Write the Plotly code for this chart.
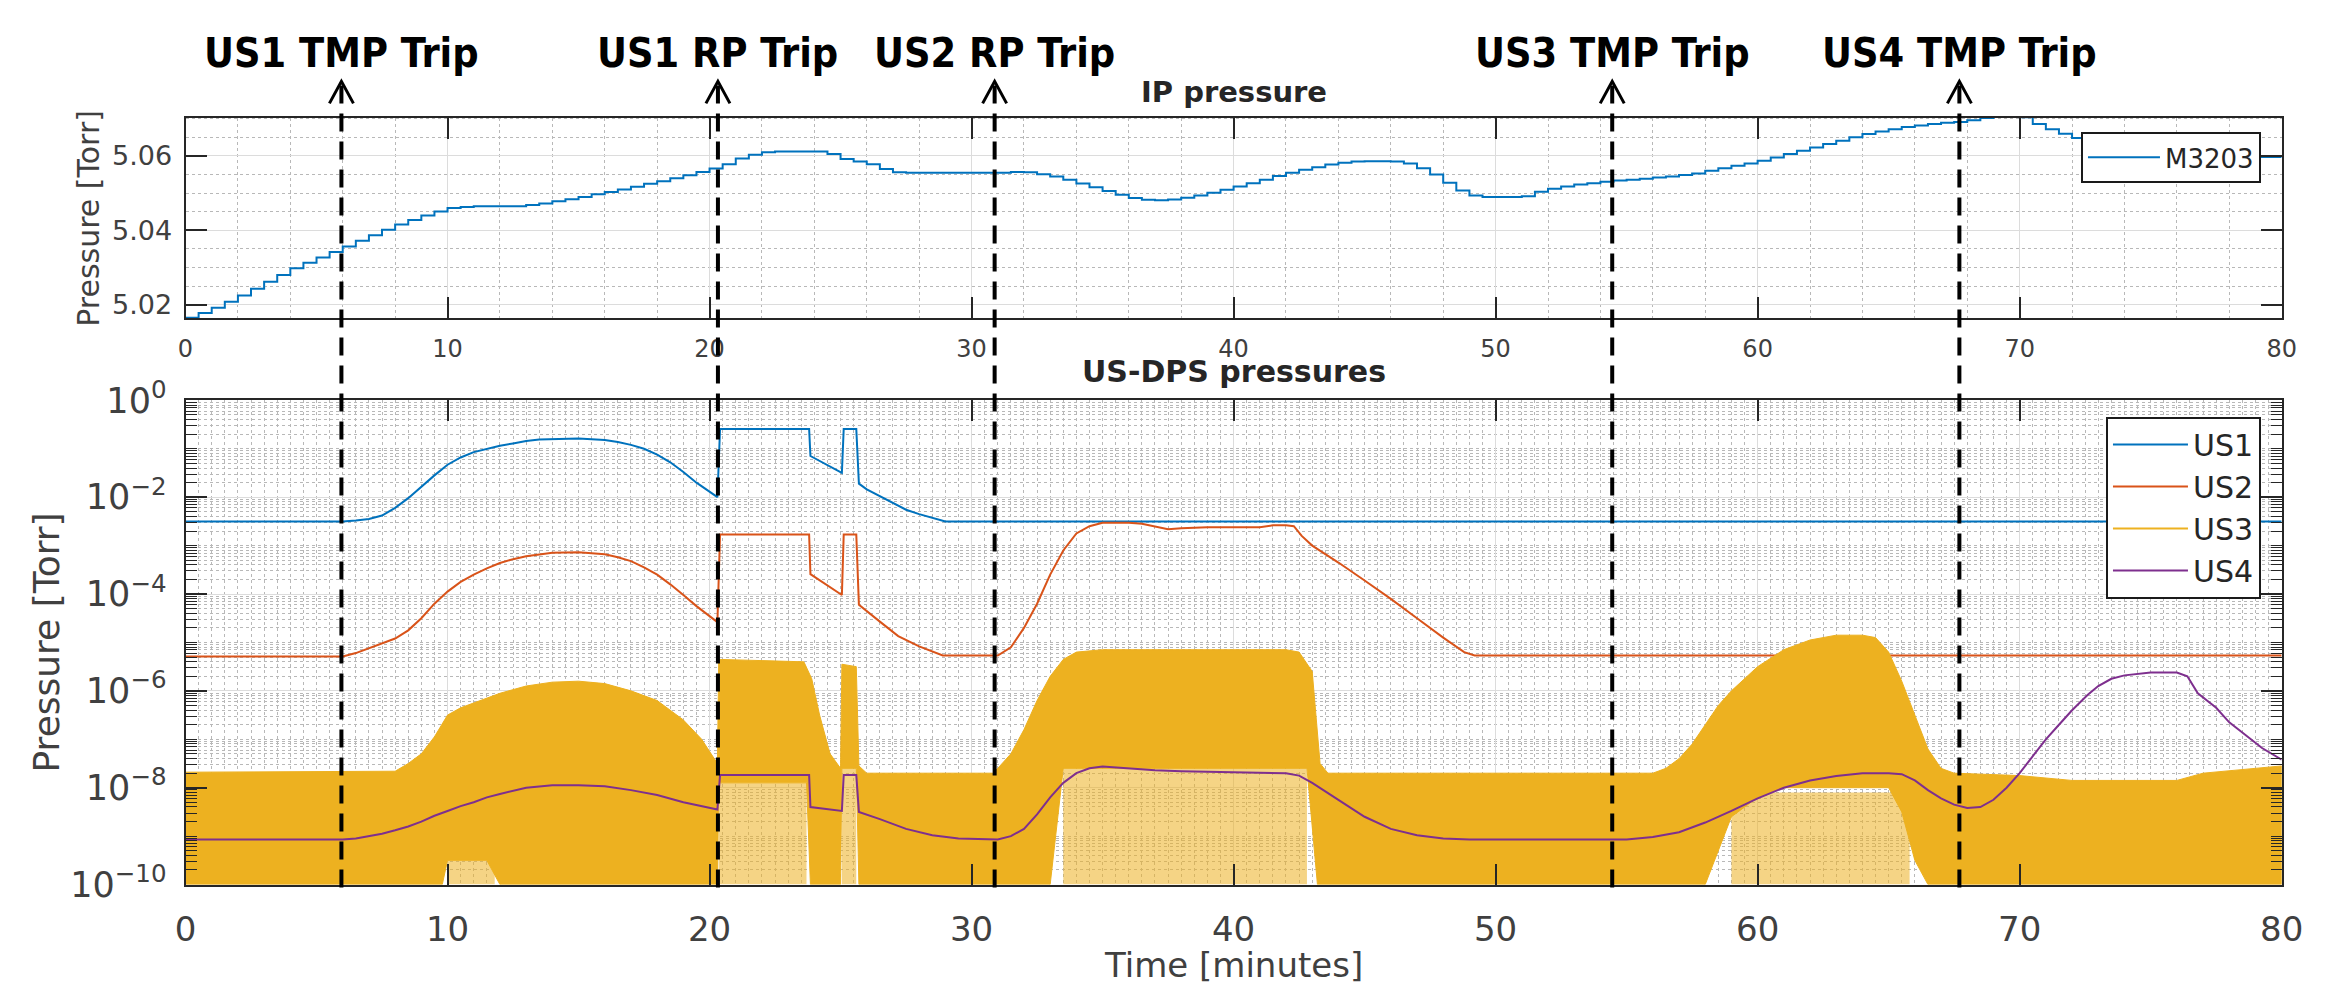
import plotly.graph_objects as go

# ---------------- data ----------------
IP_TIME = [i * 0.5 for i in range(161)]  # minutes, 0.5-min sampling
IP_M3203 = [
    5.0165, 5.0178, 5.0192, 5.0208, 5.0225, 5.0243, 5.0262, 5.0280, 5.0298, 5.0313,
    5.0327, 5.0342, 5.0357, 5.0372, 5.0387, 5.0402, 5.0416, 5.0428, 5.0440, 5.0451,
    5.0460, 5.0463, 5.0465, 5.0465, 5.0465, 5.0465, 5.0468, 5.0472, 5.0478, 5.0484,
    5.0490, 5.0497, 5.0503, 5.0510, 5.0517, 5.0525, 5.0532, 5.0540, 5.0548, 5.0557,
    5.0566, 5.0578, 5.0593, 5.0603, 5.0610, 5.0612, 5.0612, 5.0612, 5.0612, 5.0605,
    5.0592, 5.0585, 5.0578, 5.0565, 5.0556, 5.0555, 5.0555, 5.0555, 5.0555, 5.0555,
    5.0555, 5.0555, 5.0555, 5.0557, 5.0556, 5.0551, 5.0545, 5.0536, 5.0526, 5.0516,
    5.0506, 5.0496, 5.0487, 5.0482, 5.0481, 5.0483, 5.0488, 5.0494, 5.0501, 5.0509,
    5.0518, 5.0527, 5.0536, 5.0546, 5.0555, 5.0563, 5.0570, 5.0577, 5.0582, 5.0585,
    5.0586, 5.0586, 5.0585, 5.0580, 5.0567, 5.0550, 5.0528, 5.0507, 5.0494, 5.0490,
    5.0490, 5.0490, 5.0492, 5.0504, 5.0512, 5.0518, 5.0523, 5.0527, 5.0531, 5.0534,
    5.0536, 5.0539, 5.0542, 5.0545, 5.0549, 5.0553, 5.0560, 5.0567, 5.0574, 5.0580,
    5.0587, 5.0596, 5.0605, 5.0614, 5.0623, 5.0632, 5.0641, 5.0650, 5.0659, 5.0666,
    5.0672, 5.0678, 5.0682, 5.0686, 5.0689, 5.0691, 5.0696, 5.0702, 5.0705, 5.0706,
    5.0704, 5.0686, 5.0672, 5.0660, 5.0648, 5.0636, 5.0624, 5.0613, 5.0605, 5.0601,
    5.0599, 5.0598, 5.0598, 5.0598, 5.0598, 5.0598, 5.0598, 5.0597, 5.0597, 5.0597,
    5.0597,
]

# US-DPS pressures: time [min] and log10(pressure [Torr])
US1_T = [0, 6.0, 6.5, 7.0, 7.5, 8.0, 8.5, 9.0, 9.5, 10.0, 10.5, 11.0, 11.5, 12.0, 12.5,
         13.0, 13.5, 14.0, 15.0, 16.0, 16.5, 17.0, 17.5, 18.0, 18.5, 19.0, 19.5, 20.3,
         20.4, 23.8, 23.85, 25.05, 25.12, 25.6, 25.7, 26.0, 26.5, 27.0, 27.5, 28.0, 28.5,
         29.0, 80.0]
US1_LOG = [-2.5, -2.5, -2.48, -2.45, -2.38, -2.22, -2.02, -1.78, -1.55, -1.33, -1.18,
           -1.07, -1.0, -0.94, -0.89, -0.84, -0.81, -0.8, -0.79, -0.82, -0.86, -0.92,
           -1.0, -1.12, -1.28, -1.48, -1.7, -2.0, -0.59, -0.59, -1.15, -1.5, -0.59,
           -0.59, -1.72, -1.84, -1.98, -2.12, -2.26, -2.35, -2.43, -2.5, -2.5]

US2_T = [0, 6.0, 6.5, 7.0, 7.5, 8.0, 8.5, 9.0, 9.5, 10.0, 10.5, 11.0, 11.5, 12.0, 12.5,
         13.0, 14.0, 15.0, 16.0, 16.5, 17.0, 17.5, 18.0, 18.5, 19.0, 19.5, 20.3, 20.4,
         23.8, 23.85, 25.05, 25.12, 25.6, 25.7, 26.5, 27.2, 28.0, 28.9, 31.0, 31.5, 32.0,
         32.5, 33.0, 33.5, 34.0, 34.5, 35.0, 36.0, 36.5, 37.0, 37.5, 38.0, 39.0, 40.0,
         41.0, 41.5, 42.0, 42.3, 42.6, 43.0, 44.0, 45.0, 46.0, 47.0, 48.0, 48.8, 49.2,
         80.0]
US2_LOG = [-5.29, -5.29, -5.22, -5.12, -5.02, -4.92, -4.75, -4.5, -4.2, -3.95, -3.75,
           -3.6, -3.47, -3.36, -3.28, -3.22, -3.15, -3.14, -3.18, -3.24, -3.32, -3.45,
           -3.6, -3.8, -4.02, -4.25, -4.58, -2.77, -2.77, -3.59, -4.02, -2.77, -2.77,
           -4.22, -4.57, -4.87, -5.08, -5.27, -5.27, -5.1, -4.7, -4.2, -3.6, -3.1, -2.75,
           -2.6, -2.53, -2.53, -2.55, -2.6, -2.66, -2.64, -2.62, -2.62, -2.62, -2.58,
           -2.58, -2.6, -2.8, -3.0, -3.35, -3.72, -4.1, -4.5, -4.9, -5.2, -5.27, -5.27]

# US3 is a very noisy signal: upper and lower envelopes of its dense band
US3_UP_T = [0, 8.0, 8.5, 9.0, 9.5, 10.0, 10.5, 11.0, 12.0, 13.0, 14.0, 15.0, 16.0, 17.0,
            18.0, 19.0, 19.7, 20.3, 20.35, 23.6, 23.9, 24.2, 24.6, 25.0, 25.05, 25.6,
            25.7, 26.0, 30.8, 31.0, 31.5, 32.0, 32.5, 33.0, 33.5, 34.0, 35.0, 42.0, 42.5,
            43.0, 43.3, 43.6, 56.0, 56.5, 57.0, 57.5, 58.0, 58.5, 59.0, 60.0, 61.0, 62.0,
            63.0, 64.0, 64.5, 65.0, 65.5, 66.0, 66.5, 67.0, 67.5, 70.0, 72.0, 76.0, 77.0,
            80.0]
US3_UP_LOG = [-7.68, -7.66, -7.5, -7.3, -6.95, -6.5, -6.35, -6.25, -6.05, -5.9, -5.82,
              -5.8, -5.85, -6.0, -6.2, -6.6, -7.0, -7.5, -5.35, -5.4, -5.75, -6.5, -7.3,
              -7.6, -5.45, -5.5, -7.55, -7.7, -7.7, -7.6, -7.3, -6.8, -6.2, -5.7, -5.35,
              -5.2, -5.15, -5.15, -5.2, -5.6, -7.5, -7.7, -7.7, -7.6, -7.4, -7.1, -6.7,
              -6.3, -6.0, -5.5, -5.15, -4.95, -4.85, -4.85, -4.9, -5.2, -5.8, -6.5, -7.2,
              -7.6, -7.7, -7.75, -7.85, -7.85, -7.7, -7.55]
US3_LO_T = [0, 9.8, 10.0, 11.5, 12.0, 20.3, 20.35, 23.7, 23.85, 25.0, 25.05, 25.6, 25.7,
            33.0, 33.5, 42.8, 43.2, 58.0, 59.0, 60.0, 61.0, 65.0, 65.5, 66.0, 66.5, 80.0]
US3_LO_LOG = [-10, -10, -9.5, -9.5, -10, -10, -7.9, -7.9, -10, -10, -7.6, -7.6, -10,
              -10, -7.6, -7.6, -10, -10, -8.6, -8.2, -8.0, -8.0, -8.5, -9.5, -10, -10]
# zones below the dense band where only scattered US3 spikes reach down to 1e-10
US3_SPARSE_T0 = [10.0, 20.35, 25.05, 33.5, 59.0]
US3_SPARSE_T1 = [11.8, 23.7, 25.6, 42.8, 65.8]
US3_SPARSE_TOP_LOG = [-9.5, -7.9, -7.6, -7.6, -8.1]

US4_T = [0, 6.0, 6.5, 7.0, 7.5, 8.0, 8.5, 9.0, 9.5, 10.0, 10.5, 11.0, 11.5, 12.0, 12.5,
         13.0, 14.0, 15.0, 16.0, 17.0, 18.0, 19.0, 20.3, 20.4, 23.8, 23.85, 25.05, 25.12,
         25.6, 25.7, 26.5, 27.5, 28.5, 29.5, 31.0, 31.5, 32.0, 32.5, 33.0, 33.5, 34.0,
         34.5, 35.0, 36.0, 37.0, 38.0, 40.0, 42.0, 42.5, 43.0, 44.0, 45.0, 46.0, 47.0,
         48.0, 49.0, 55.0, 56.0, 57.0, 58.0, 59.0, 60.0, 61.0, 62.0, 63.0, 64.0, 65.0,
         65.5, 66.0, 66.5, 67.0, 67.5, 68.0, 68.5, 69.0, 69.5, 70.0, 70.5, 71.0, 71.5,
         72.0, 72.6, 73.0, 73.5, 74.0, 75.0, 76.0, 76.4, 76.8, 77.5, 78.0, 79.25, 80.0]
US4_LOG = [-9.07, -9.07, -9.05, -9.0, -8.95, -8.88, -8.8, -8.7, -8.58, -8.48, -8.38,
           -8.3, -8.2, -8.13, -8.06, -8.0, -7.95, -7.95, -7.97, -8.05, -8.15, -8.3,
           -8.45, -7.74, -7.74, -8.4, -8.48, -7.74, -7.74, -8.5, -8.65, -8.85, -8.98,
           -9.05, -9.07, -9.0, -8.85, -8.55, -8.2, -7.9, -7.7, -7.6, -7.56, -7.6, -7.64,
           -7.66, -7.68, -7.7, -7.75, -7.9, -8.25, -8.6, -8.85, -8.98, -9.05, -9.07,
           -9.07, -9.02, -8.92, -8.72, -8.48, -8.22, -8.0, -7.85, -7.76, -7.7, -7.7,
           -7.72, -7.85, -8.05, -8.22, -8.35, -8.42, -8.4, -8.25, -8.0, -7.7, -7.35,
           -7.0, -6.7, -6.4, -6.08, -5.9, -5.75, -5.68, -5.62, -5.62, -5.7, -6.05, -6.35,
           -6.65, -7.18, -7.42]

TRIP_TIME = [5.95, 20.32, 30.88, 54.45, 67.7]
TRIP_LABEL = ["US1 TMP Trip", "US1 RP Trip", "US2 RP Trip", "US3 TMP Trip", "US4 TMP Trip"]

Y_TOP_TICKS = [5.02, 5.04, 5.06]
X_TICKS = [0, 10, 20, 30, 40, 50, 60, 70, 80]
LOG_TICK_EXP = [0, -2, -4, -6, -8, -10]

C_BLUE, C_ORANGE, C_YELLOW, C_PURPLE = "#0072BD", "#D95319", "#EDB120", "#7E2F8E"

# ---------------- figure ----------------
W, H = 2351, 1001
FONT = "DejaVu Sans"
TXT = "#262626"


def px_x(v):
    return v / W


def px_y(v):
    return 1 - v / H


XDOM = [px_x(177), px_x(2303)]


def p(arr):
    return [10 ** v for v in arr]


fig = go.Figure()

fig.add_trace(go.Scatter(
    x=IP_TIME, y=IP_M3203, mode="lines", line=dict(color=C_BLUE, width=2, shape="hv"),
    name="M3203", xaxis="x", yaxis="y", legend="legend"))

fig.add_trace(go.Scatter(x=US1_T, y=p(US1_LOG), mode="lines", name="US1",
                         line=dict(color=C_BLUE, width=2), xaxis="x2", yaxis="y2",
                         legend="legend2"))
fig.add_trace(go.Scatter(x=US2_T, y=p(US2_LOG), mode="lines", name="US2",
                         line=dict(color=C_ORANGE, width=2), xaxis="x2", yaxis="y2",
                         legend="legend2"))

# sparse-spike zones (lighter) then the dense band
sx, sy = [], []
for t0, t1, top in zip(US3_SPARSE_T0, US3_SPARSE_T1, US3_SPARSE_TOP_LOG):
    sx += [t0, t0, t1, t1, t0, None]
    sy += [1e-10, 10 ** top, 10 ** top, 1e-10, 1e-10, None]
fig.add_trace(go.Scatter(x=sx, y=sy, mode="lines", fill="toself",
                         fillcolor="rgba(237,177,32,0.55)", line=dict(width=0),
                         showlegend=False, xaxis="x2", yaxis="y2", hoverinfo="skip"))
band_x = US3_UP_T + US3_LO_T[::-1]
band_y = p(US3_UP_LOG) + p(US3_LO_LOG[::-1])
fig.add_trace(go.Scatter(x=band_x, y=band_y, mode="lines", fill="toself",
                         fillcolor=C_YELLOW, line=dict(color=C_YELLOW, width=1),
                         name="US3", showlegend=False, xaxis="x2", yaxis="y2",
                         hoverinfo="skip"))
fig.add_trace(go.Scatter(x=[None], y=[None], mode="lines", name="US3",
                         line=dict(color=C_YELLOW, width=2), xaxis="x2", yaxis="y2",
                         legend="legend2"))
fig.add_trace(go.Scatter(x=US4_T, y=p(US4_LOG), mode="lines", name="US4",
                         line=dict(color=C_PURPLE, width=2), xaxis="x2", yaxis="y2",
                         legend="legend2"))

minor_log = []
for e in range(-10, 0):
    for k in range(1, 10):
        if k == 1 and e % 2 == 0:
            continue
        minor_log.append(k * 10.0 ** e)

axis_common = dict(showline=True, linecolor=TXT, linewidth=2, mirror="ticks",
                   ticks="inside", ticklen=21, tickwidth=1.5, tickcolor=TXT,
                   gridcolor="#dcdcdc", gridwidth=1, zeroline=False)

fig.update_layout(
    width=W, height=H, autosize=False,
    margin=dict(l=0, r=0, t=0, b=0),
    paper_bgcolor="white", plot_bgcolor="white",
    font=dict(family=FONT, color=TXT),
    xaxis=dict(domain=XDOM, anchor="y", range=[0, 80], tickvals=X_TICKS,
               tickfont=dict(size=24, color="#404040"), ticklabelstandoff=8,
               minor=dict(dtick=2, showgrid=True, griddash="dot", gridcolor="#b8b8b8",
                          ticks=""),
               **axis_common),
    yaxis=dict(domain=[px_y(307), px_y(97)], anchor="x", range=[5.0164, 5.0703],
               tickvals=Y_TOP_TICKS, ticktext=[f"{v:.2f}" for v in Y_TOP_TICKS],
               tickfont=dict(size=27, color="#404040"), ticklabelstandoff=6,
               minor=dict(dtick=0.005, showgrid=True, griddash="dot",
                          gridcolor="#b8b8b8", ticks=""),
               **axis_common),
    xaxis2=dict(domain=XDOM, anchor="y2", range=[0, 80], tickvals=X_TICKS,
                tickfont=dict(size=34, color="#404040"), ticklabelstandoff=14,
                minor=dict(dtick=0.5, showgrid=True, griddash="dot",
                           gridcolor="#b8b8b8", ticks=""),
                **axis_common),
    yaxis2=dict(domain=[px_y(900), px_y(393)], anchor="x2", type="log", range=[-10, 0],
                tickvals=[10.0 ** e for e in LOG_TICK_EXP],
                ticktext=[f"10<sup>{'−' if e < 0 else ''}{abs(e)}</sup>" for e in LOG_TICK_EXP],
                tickfont=dict(size=35, color="#404040"), ticklabelstandoff=10,
                minor=dict(tickvals=minor_log, showgrid=True, griddash="dot",
                           gridcolor="#b8b8b8", ticks="inside", ticklen=11,
                           tickcolor=TXT, tickwidth=1.2),
                **axis_common),
    legend=dict(x=px_x(2282), y=px_y(112), xanchor="right", yanchor="top",
                bgcolor="white", bordercolor="#1a1a1a", borderwidth=2, itemwidth=72,
                font=dict(size=26, color=TXT, family=FONT)),
    legend2=dict(x=px_x(2282), y=px_y(410), xanchor="right", yanchor="top",
                 bgcolor="white", bordercolor="#1a1a1a", borderwidth=2, itemwidth=75,
                 font=dict(size=30, color=TXT, family=FONT)),
    showlegend=True,
)

# titles and axis labels
ann = [
    dict(text="<b>IP pressure</b>", x=px_x(1240), y=px_y(70), font=dict(size=29)),
    dict(text="<b>US-DPS pressures</b>", x=px_x(1240), y=px_y(363), font=dict(size=30)),
    dict(text="Pressure [Torr]", x=px_x(79), y=px_y(202), textangle=-90,
         font=dict(size=30, color="#404040")),
    dict(text="Pressure [Torr]", x=px_x(36), y=px_y(646), textangle=-90,
         font=dict(size=36, color="#404040")),
    dict(text="Time [minutes]", x=px_x(1240), y=px_y(984), font=dict(size=34, color="#404040")),
]
for a in ann:
    fig.add_annotation(xref="paper", yref="paper", showarrow=False,
                       xanchor="center", yanchor="middle", **a)

# trip markers: dashed lines with open arrowheads and bold labels
for t, lab in zip(TRIP_TIME, TRIP_LABEL):
    fig.add_shape(type="line", xref="x", yref="paper", x0=t, x1=t,
                  y0=px_y(903), y1=px_y(62),
                  line=dict(color="black", width=4, dash="18px,10px"), layer="above")
    fig.add_shape(type="path", xref="x", yref="paper", xsizemode="pixel", ysizemode="pixel",
                  xanchor=t, yanchor=px_y(59), path="M -12,-22 L 0,0 L 12,-22",
                  line=dict(color="black", width=3), layer="above")
    fig.add_annotation(xref="x", yref="paper", x=t, y=px_y(29), text=f"<b>{lab}</b>",
                       showarrow=False, xanchor="center", yanchor="middle",
                       font=dict(size=41, color="black",
                                 family="Liberation Sans Narrow, DejaVu Sans Condensed, Roboto, sans-serif"))

fig.write_html("out.html")
